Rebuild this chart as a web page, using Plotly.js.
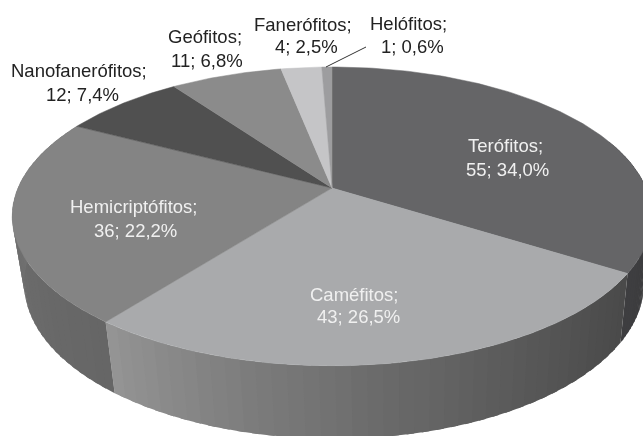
<!DOCTYPE html>
<html>
<head>
<meta charset="utf-8">
<script src="https://cdn.plot.ly/plotly-3.0.1.min.js"></script>
<style>html,body{margin:0;padding:0;background:#fff;overflow:hidden}#chart{width:643px;height:436px;filter:blur(0.5px)}</style>
</head>
<body>
<div id="chart"></div>
<script>
// Data
const categories = ['Terófitos','Caméfitos','Hemicriptófitos','Nanofanerófitos','Geófitos','Fanerófitos','Helófitos'];
const counts = [55,43,36,12,11,4,1];
const percents = ['34,0%','26,5%','22,2%','7,4%','6,8%','2,5%','0,6%'];

// Style
const topColors = ['#656567','#a9aaac','#848484','#505050','#8b8b8b','#c5c5c7','#9d9d9f'];
const wallFrom = ['#3a3a3c','#4a4a4a','#666666',null,null,null,null];
const wallTo   = ['#3e3e40','#959595','#7a7a7a',null,null,null,null];
const labelColors = ['#f0f0f0','#f0f0f0','#f0f0f0','#222','#222','#222','#222'];
const line1Pos = [[505,146],[354,295],[133,207],[79,71],[205,37],[303,25],[408,24]];
const line2Pos = [[507,170],[358,317],[135,231],[82,95],[207,61],[306,47],[412,47]];
const leaderX = [326,366], leaderY = [67,47];

// Perspective pie geometry
const cx=332, cy=188, A=314, B=144, P=0.19;
function rim(deg){
  const t=deg*Math.PI/180, u=Math.sin(t), v=Math.cos(t), w=1+P*v;
  return [cx+A*u/w, cy-B*v/w];
}
function low(pt){ return [335+(pt[0]-333)*0.969, 283+(pt[1]-216)*1.04]; }
function hex(c){return [1,3,5].map(i=>parseInt(c.substr(i,2),16));}
function mix(a,b,f){const x=hex(a),y=hex(b);return 'rgb('+x.map((v,i)=>Math.round(v+(y[i]-v)*f)).join(',')+')';}

const total=counts.reduce((a,b)=>a+b,0);
const traces=[];
function poly(xs,ys,color,lw){
  traces.push({type:'scatter',mode:'lines',x:xs,y:ys,fill:'toself',fillcolor:color,
    line:{color:color,width:lw},hoverinfo:'skip',showlegend:false});
}
let starts=[],acc=0;
counts.forEach(c=>{starts.push(acc/total*360);acc+=c;});
const ends=counts.map((c,i)=>starts[i]+c/total*360);

// Side walls (front slices only)
[0,1,2].forEach(i=>{
  const a0 = i===0 ? 70 : starts[i], a1 = ends[i], n=40;
  for(let k=0;k<n;k++){
    const d0=a0+(a1-a0)*k/n, d1=a0+(a1-a0)*(k+1.5)/n;
    const p0=rim(d0),p1=rim(Math.min(d1,a1)),q0=low(p0),q1=low(p1);
    poly([p0[0],p1[0],q1[0],q0[0],p0[0]],[p0[1],p1[1],q1[1],q0[1],p0[1]],mix(wallFrom[i],wallTo[i],Math.pow((k+0.5)/n,1.3)),0);
  }
});
// Top faces
categories.forEach((_,i)=>{
  const xs=[cx],ys=[cy],n=Math.max(4,Math.ceil((ends[i]-starts[i])/1));
  for(let k=0;k<=n;k++){const p=rim(starts[i]+(ends[i]-starts[i])*k/n);xs.push(p[0]);ys.push(p[1]);}
  xs.push(cx);ys.push(cy);
  poly(xs,ys,topColors[i],0.5);
});
// Leader line
traces.push({type:'scatter',mode:'lines',x:leaderX,y:leaderY,line:{color:'#333',width:1},hoverinfo:'skip',showlegend:false});

const annotations=[];
categories.forEach((name,i)=>{
  const f={family:'Liberation Sans, Arial, sans-serif',size:18.5,color:labelColors[i]};
  annotations.push({x:line1Pos[i][0],y:line1Pos[i][1]-1,text:name+';',showarrow:false,font:f,xanchor:'center',yanchor:'middle'});
  annotations.push({x:line2Pos[i][0],y:line2Pos[i][1]-1,text:counts[i]+'; '+percents[i],showarrow:false,font:f,xanchor:'center',yanchor:'middle'});
});

Plotly.newPlot('chart',traces,{
  width:643,height:436,margin:{l:0,r:0,t:0,b:0},
  paper_bgcolor:'#fff',plot_bgcolor:'#fff',showlegend:false,
  xaxis:{range:[0,643],visible:false,fixedrange:true},
  yaxis:{range:[436,0],visible:false,fixedrange:true},
  annotations:annotations
},{staticPlot:true,displayModeBar:false});
</script>
</body>
</html>
